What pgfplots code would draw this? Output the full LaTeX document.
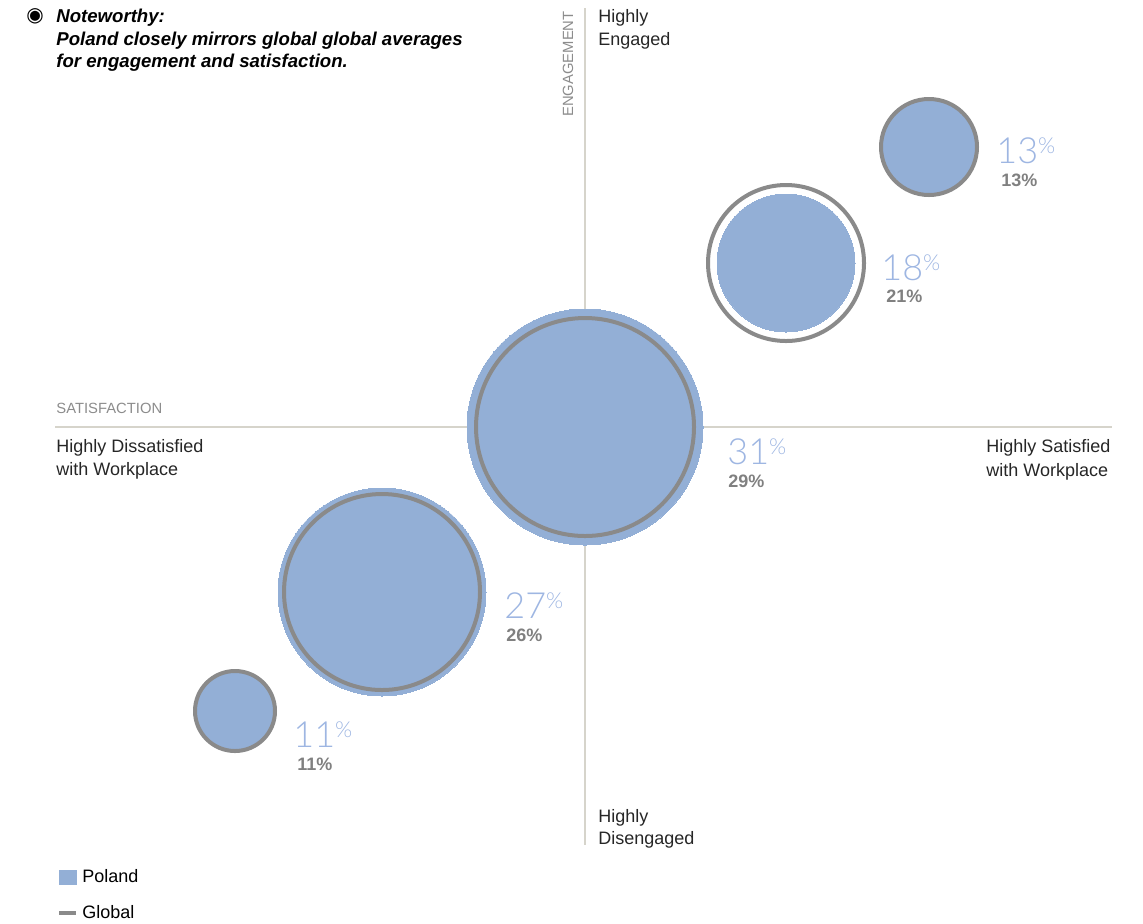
\documentclass[border=0pt]{standalone}
\usepackage{pgfplots}
\pgfplotsset{compat=1.18}
\usepackage{pgfplotstable}
\usepackage{fontspec}
\setmainfont{Liberation Sans}
\newfontfamily\lightfont{Lato Light}
\newfontfamily\symfont{DejaVu Sans}
\definecolor{polandblue}{RGB}{147,175,214}
\definecolor{ringgray}{RGB}{138,138,138}
\definecolor{lblblue}{RGB}{158,182,226}
\definecolor{lblgray}{RGB}{128,128,128}
\definecolor{linecol}{RGB}{214,212,203}
\definecolor{capgray}{RGB}{140,140,140}
% bubble centres in pixel units (x right, y down), radii in pixels
\pgfplotstableread{
x y r
929 147 47
786 263 69
585 427 118
382 592 104
235 711 40.5
}\polandtab
\pgfplotstableread{
x y r
929 147 48
786 263 78
585 427 109
382 592 98
235 711 40
}\globaltab
\newcommand{\biglbl}[1]{{\lightfont\fontsize{18pt}{18pt}\selectfont #1\raisebox{5pt}{\fontsize{11pt}{11pt}\selectfont\%}}}
\newcommand{\smalllbl}[1]{{\bfseries\fontsize{9pt}{9pt}\selectfont #1\%}}
\begin{document}
\begin{tikzpicture}
\begin{axis}[
  scale only axis, width=571.5pt, height=461.5pt,
  xmin=0, xmax=1143, ymin=0, ymax=923, y dir=reverse,
  hide axis, clip=false,
  legend style={at={(axis cs:57,865)}, anchor=north west, draw=none, fill=none,
    font=\fontsize{9pt}{9pt}\selectfont, inner xsep=0pt, inner ysep=0pt,
    row sep=6pt, cells={anchor=west}},
  legend cell align=left,
]
\addplot[linecol, line width=0.75pt, forget plot] coordinates {(585,8) (585,845)};
\addplot[linecol, line width=0.75pt, forget plot] coordinates {(55,427) (1112,427)};
\addplot[only marks, mark=*, scatter,
  scatter/use mapped color={draw=polandblue, fill=polandblue},
  mark options={line width=0pt},
  visualization depends on={0.5*\thisrow{r} \as \rad},
  scatter/@pre marker code/.append style={/tikz/mark size=\rad},
  legend image code/.code={\fill[polandblue] (0pt,-3.5pt) rectangle (8.5pt,3.5pt);}]
  table[x=x, y=y] {\polandtab};
\addlegendentry{Poland}
\addplot[only marks, mark=o, scatter,
  scatter/use mapped color={draw=ringgray},
  mark options={line width=2pt},
  visualization depends on={0.5*\thisrow{r} \as \rad},
  scatter/@pre marker code/.append style={/tikz/mark size=\rad},
  legend image code/.code={\draw[ringgray, line width=2pt] (0pt,0pt) -- (8.5pt,0pt);}]
  table[x=x, y=y] {\globaltab};
\addlegendentry{Global}
% value labels
\node[anchor=base west, inner sep=0, text=lblblue] at (axis cs:996,163) {\biglbl{13}};
\node[anchor=base west, inner sep=0, text=lblgray] at (axis cs:1001,186) {\smalllbl{13}};
\node[anchor=base west, inner sep=0, text=lblblue] at (axis cs:881,280) {\biglbl{18}};
\node[anchor=base west, inner sep=0, text=lblgray] at (axis cs:886,302) {\smalllbl{21}};
\node[anchor=base west, inner sep=0, text=lblblue] at (axis cs:727,464) {\biglbl{31}};
\node[anchor=base west, inner sep=0, text=lblgray] at (axis cs:728,487) {\smalllbl{29}};
\node[anchor=base west, inner sep=0, text=lblblue] at (axis cs:504,618) {\biglbl{27}};
\node[anchor=base west, inner sep=0, text=lblgray] at (axis cs:506,641) {\smalllbl{26}};
\node[anchor=base west, inner sep=0, text=lblblue] at (axis cs:293,747) {\biglbl{11}};
\node[anchor=base west, inner sep=0, text=lblgray] at (axis cs:297,770) {\smalllbl{11}};
% quadrant captions
\begin{scope}[every node/.style={anchor=base west, inner sep=0, font=\fontsize{9pt}{9pt}\selectfont, text=black!85}]
\node at (axis cs:598,22) {Highly};
\node at (axis cs:598,45) {Engaged};
\node at (axis cs:598,822) {Highly};
\node at (axis cs:598,844) {Disengaged};
\node at (axis cs:56,452) {Highly Dissatisfied};
\node at (axis cs:56,475) {with Workplace};
\node at (axis cs:986,452) {Highly Satisfied};
\node at (axis cs:986,476) {with Workplace};
\end{scope}
\node[anchor=base west, inner sep=0, text=capgray, font=\fontsize{7.4pt}{7.4pt}\selectfont] at (axis cs:56,413) {SATISFACTION};
\node[anchor=base west, inner sep=0, rotate=90, text=capgray, font=\fontsize{7.4pt}{7.4pt}\selectfont] at (axis cs:573,117) {ENGAGEMENT};
% title
\node[anchor=base west, inner sep=0, font=\symfont\fontsize{10pt}{10pt}\selectfont] at (axis cs:26,21) {◉};
\begin{scope}[every node/.style={anchor=base west, inner sep=0, font=\bfseries\itshape\fontsize{9.3pt}{9.3pt}\selectfont}]
\node at (axis cs:56,22) {Noteworthy:};
\node at (axis cs:56,45) {Poland closely mirrors global global averages};
\node at (axis cs:56,67) {for engagement and satisfaction.};
\end{scope}
\end{axis}
\pgfresetboundingbox
\useasboundingbox (0,0) rectangle (571.5pt,461.5pt);
\end{tikzpicture}
\end{document}
